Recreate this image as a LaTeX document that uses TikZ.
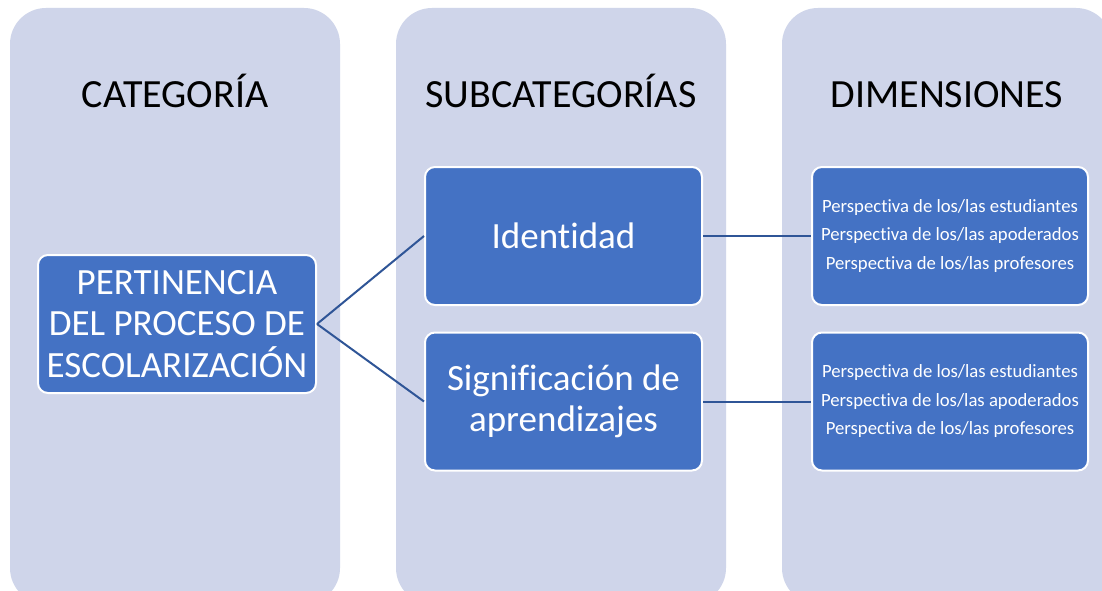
\documentclass[tikz,border=0pt]{standalone}
\usepackage{fontspec}
\setmainfont{Carlito}[Ligatures=NoCommon]
\definecolor{colbg}{HTML}{CFD5EA}
\definecolor{boxblue}{HTML}{4472C4}
\definecolor{linkblue}{HTML}{2F5597}
\begin{document}
\begin{tikzpicture}[x=1pt,y=-1pt,
  column/.style={fill=colbg,draw=none,rounded corners=36pt},
  header/.style={font=\fontsize{40}{48}\selectfont,text=black,anchor=base,inner sep=0pt},
  bluebox/.style={fill=boxblue,draw=white,line width=2pt,rounded corners=10pt,
    text=white,align=center,inner sep=0pt,minimum width=277pt,minimum height=138pt},
  catfont/.style={font=\fontsize{37}{41.5}\selectfont},
  subfont/.style={font=\fontsize{37}{41}\selectfont},
  dimfont/.style={font=\fontsize{18.7}{28.5}\selectfont},
  link/.style={draw=linkblue,line width=2pt}]
\clip (0,0) rectangle (1102,591);
\fill[white] (0,0) rectangle (1102,591);
% columns
\path[column] (10,8) rectangle (340,604);
\path[column] (396,8) rectangle (726,604);
\path[column] (782,8) rectangle (1112,604);
% headers
\node[header] (h1) at (175,108) {CATEGORÍA};
\node[header] (h2) at (561,108) {SUBCATEGORÍAS};
\node[header] (h3) at (947,108) {DIMENSIONES};
% boxes
\node[bluebox,catfont,minimum width=278pt] (cat) at (177,324) {PERTINENCIA\\DEL PROCESO DE\\ESCOLARIZACIÓN};
\node[bluebox,subfont] (ide) at (563.5,236) {Identidad};
\node[bluebox,subfont] (sig) at (563.5,401.5) {Significación de\\aprendizajes};
\node[bluebox,dimfont,minimum width=276pt] (d1) at (950,236) {Perspectiva de los/las estudiantes\\Perspectiva de los/las apoderados\\Perspectiva de los/las profesores};
\node[bluebox,dimfont,minimum width=276pt] (d2) at (950,401.5) {Perspectiva de los/las estudiantes\\Perspectiva de los/las apoderados\\Perspectiva de los/las profesores};
% connectors
\draw[link] (cat.east) -- (ide.west);
\draw[link] (cat.east) -- (sig.west);
\draw[link] (ide.east) -- (d1.west);
\draw[link] (sig.east) -- (d2.west);
\end{tikzpicture}
\end{document}
